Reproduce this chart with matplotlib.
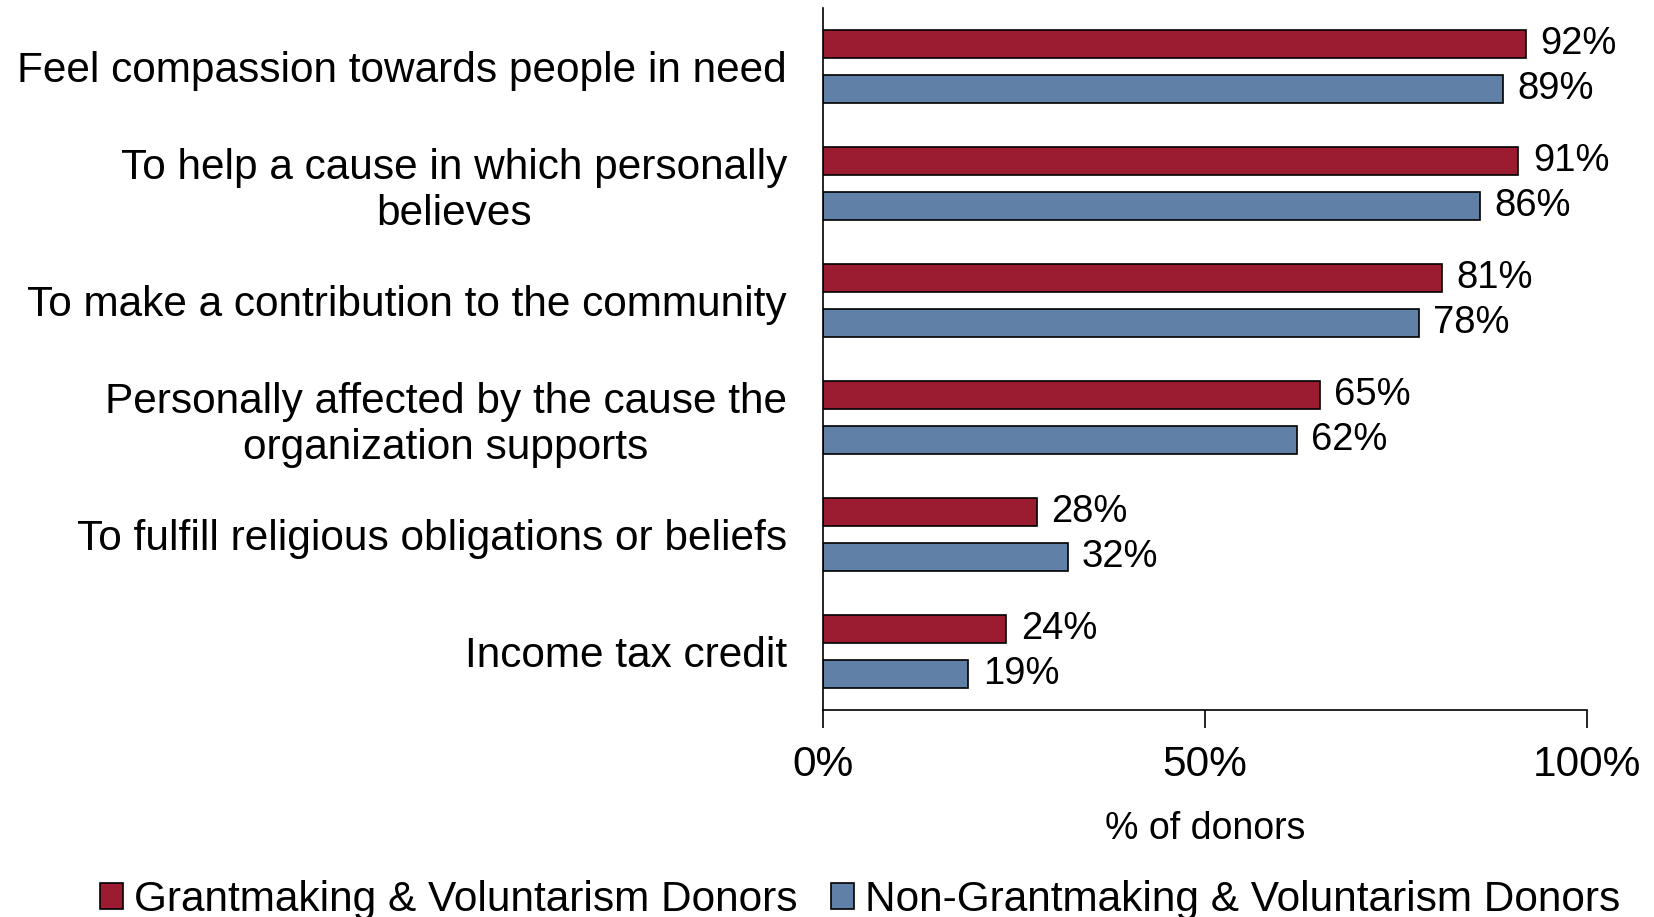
import numpy as np
import matplotlib.pyplot as plt
from matplotlib.ticker import PercentFormatter

plt.rcParams['font.family'] = ['Liberation Sans', 'DejaVu Sans']

categories = [
    "Feel compassion towards people in need",
    "To help a cause in which personally\nbelieves",
    "To make a contribution to the community",
    "Personally affected by the cause the\norganization supports",
    "To fulfill religious obligations or beliefs",
    "Income tax credit",
]
grantmaking = [92, 91, 81, 65, 28, 24]
non_grantmaking = [89, 86, 78, 62, 32, 19]
series_names = ["Grantmaking & Voluntarism Donors",
                "Non-Grantmaking & Voluntarism Donors"]
red = "#9B1B30"
blue = "#6080A8"

fig = plt.figure(figsize=(16.54, 9.17), dpi=100)
ax = fig.add_axes([0.4976, 0.2257, 0.4619, 0.7656])

y = np.arange(len(categories))
h = 0.24
off = 0.19
b1 = ax.barh(y - off, grantmaking, height=h, color=red, edgecolor="black",
             linewidth=1.2, label=series_names[0])
b2 = ax.barh(y + off, non_grantmaking, height=h, color=blue, edgecolor="black",
             linewidth=1.2, label=series_names[1])

for bars, vals in ((b1, grantmaking), (b2, non_grantmaking)):
    for bar, v in zip(bars, vals):
        ax.text(v + 1.9, bar.get_y() + bar.get_height() / 2, f"{v}%",
                va="center", ha="left", fontsize=27.5)

ax.set_ylim(len(categories) - 0.5, -0.5)
ax.set_xlim(0, 100)
ax.set_yticks(y)
ax.set_yticklabels(categories, fontsize=30.5, linespacing=1.2,
                   multialignment="center")
ax.tick_params(axis="y", length=0, pad=26)
ax.set_xticks([0, 50, 100])
ax.xaxis.set_major_formatter(PercentFormatter(decimals=0))
ax.tick_params(axis="x", labelsize=30.5, length=13, width=1.2, pad=12)
ax.set_xlabel("% of donors", fontsize=27, labelpad=19)

for s in ("top", "right"):
    ax.spines[s].set_visible(False)
ax.spines["left"].set_linewidth(1.2)
ax.spines["bottom"].set_linewidth(1.2)

fig.legend(handles=[b1, b2], loc="lower center", ncol=2, frameon=False,
           fontsize=30.5, bbox_to_anchor=(0.52, -0.045), handlelength=0.55,
           handleheight=0.55, handletextpad=0.25, columnspacing=0.8)

fig.savefig("out.png", dpi=100)
